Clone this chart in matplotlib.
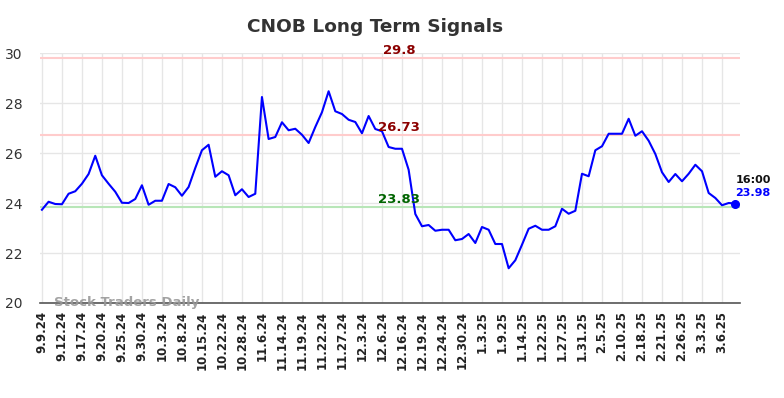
import matplotlib
matplotlib.use("Agg")
import matplotlib.pyplot as plt

# closing prices, 3 points per date tick
prices = [23.73, 24.05, 23.96, 23.95, 24.37, 24.47, 24.77, 25.16, 25.89, 25.11,
          24.77, 24.45, 24.01, 24.00, 24.16, 24.71, 23.93, 24.09, 24.09, 24.76,
          24.63, 24.29, 24.64, 25.40, 26.11, 26.33, 25.05, 25.27, 25.11, 24.31,
          24.55, 24.24, 24.37, 28.24, 26.56, 26.64, 27.23, 26.91, 26.97, 26.73,
          26.40, 27.04, 27.63, 28.47, 27.67, 27.56, 27.33, 27.24, 26.79, 27.48,
          26.96, 26.87, 26.24, 26.17, 26.17, 25.33, 23.56, 23.07, 23.12, 22.89,
          22.93, 22.93, 22.51, 22.56, 22.76, 22.40, 23.04, 22.93, 22.36, 22.36,
          21.39, 21.71, 22.33, 22.97, 23.09, 22.93, 22.93, 23.07, 23.77, 23.57,
          23.69, 25.17, 25.07, 26.11, 26.27, 26.77, 26.77, 26.77, 27.37, 26.69,
          26.87, 26.49, 25.96, 25.23, 24.84, 25.16, 24.87, 25.17, 25.53, 25.27,
          24.40, 24.20, 23.91, 24.00, 23.98]

tick_labels = ["9.9.24", "9.12.24", "9.17.24", "9.20.24", "9.25.24", "9.30.24",
               "10.3.24", "10.8.24", "10.15.24", "10.22.24", "10.28.24", "11.6.24",
               "11.14.24", "11.19.24", "11.22.24", "11.27.24", "12.3.24", "12.6.24",
               "12.16.24", "12.19.24", "12.24.24", "12.30.24", "1.3.25", "1.9.25",
               "1.14.25", "1.22.25", "1.27.25", "1.31.25", "2.5.25", "2.10.25",
               "2.18.25", "2.21.25", "2.26.25", "3.3.25", "3.6.25"]

resist_hi = 29.8
resist_lo = 26.73
support = 23.83
last_time = "16:00"

x = list(range(len(prices)))
tick_pos = [3 * i for i in range(len(tick_labels))]

fig = plt.figure(figsize=(7.84, 3.98), dpi=100)
ax = fig.add_axes([0.0504, 0.2387, 0.8935, 0.6281])

ax.set_xlim(-0.36, 104.7)
ax.set_ylim(20, 30)

# grid
ax.set_yticks([20, 22, 24, 26, 28, 30])
ax.set_xticks(tick_pos)
ax.set_xticklabels(tick_labels, rotation=90, fontsize=8.5, fontweight='bold', color='#222222')
ax.tick_params(axis='y', labelsize=10, colors='#333333', length=0, pad=12)
ax.tick_params(axis='x', length=0, pad=6)
ax.grid(True, color='#e6e6e6', linewidth=1)
ax.set_axisbelow(True)
for s in ['left', 'right', 'top']:
    ax.spines[s].set_visible(False)
ax.spines['bottom'].set_color('#555555')
ax.spines['bottom'].set_linewidth(1.2)

# signal lines
ax.axhline(resist_hi, color='#ffcccc', linewidth=1.5)
ax.axhline(resist_lo, color='#ffcccc', linewidth=1.5)
ax.axhline(support, color='#b8e6b8', linewidth=1.5)

mid = 53.6
ax.text(mid, resist_hi + 0.05, "29.8", color='#8b0000', fontsize=9.5, fontweight='bold',
        ha='center', va='bottom')
ax.text(mid, resist_lo + 0.05, "26.73", color='#8b0000', fontsize=9.5, fontweight='bold',
        ha='center', va='bottom')
ax.text(mid, support + 0.05, "23.83", color='#006400', fontsize=9.5, fontweight='bold',
        ha='center', va='bottom')

# price line
ax.plot(x, prices, color='#0000ff', linewidth=1.5)
ax.plot(x[-1], prices[-1], 'o', color='#0000ff', markersize=5.5, clip_on=False)

ax.text(x[-1], 24.92, last_time, color='#111111', fontsize=8,
        fontweight='bold', va='center', ha='left')
ax.text(x[-1], 24.40, "%.2f" % prices[-1], color='#0000ff', fontsize=8,
        fontweight='bold', va='center', ha='left')

ax.text(1.8, 20.0, "Stock Traders Daily", color='#999999', fontsize=9.5,
        fontweight='bold', va='center', ha='left', alpha=0.9)

fig.text(375 / 784, 1 - 27 / 398, "CNOB Long Term Signals", fontsize=13.3,
         fontweight='bold', color='#333333', ha='center', va='center')

fig.savefig("out.png", dpi=100)
